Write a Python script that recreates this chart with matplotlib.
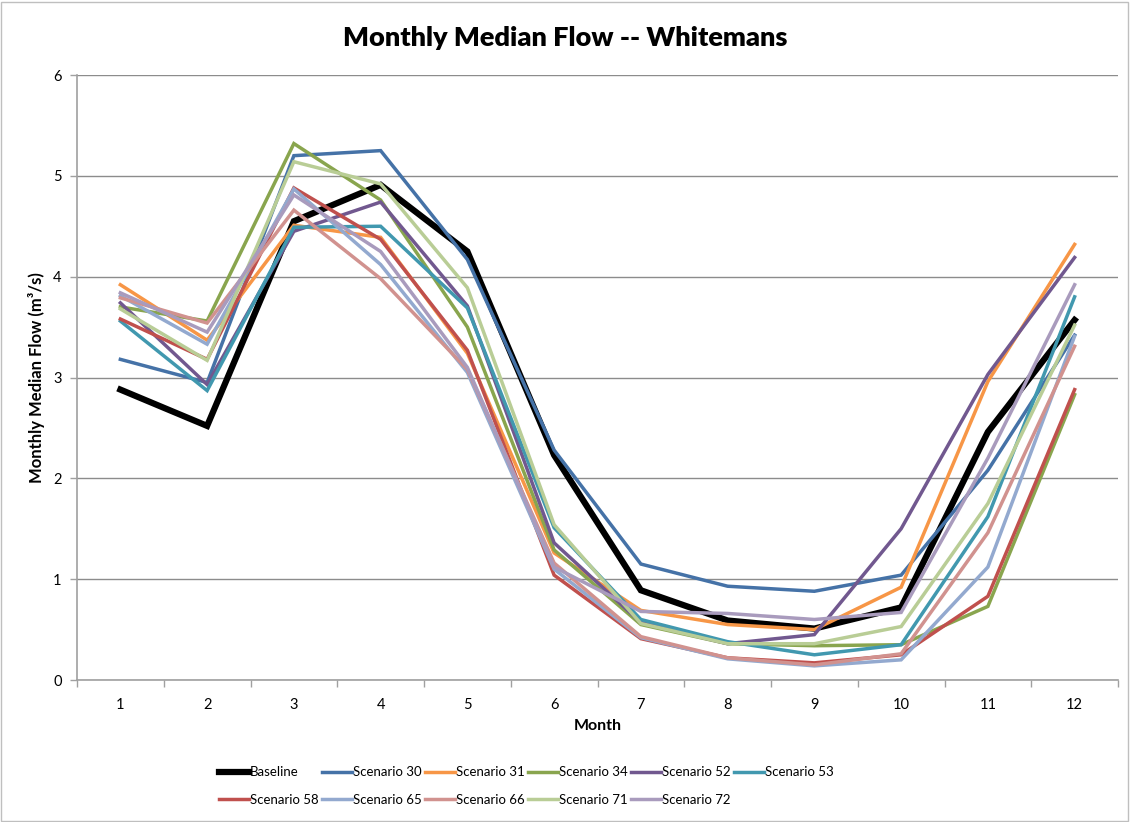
import numpy as np
import matplotlib.pyplot as plt

plt.rcParams['font.family'] = ['Lato', 'DejaVu Sans']

months = list(range(1, 13))

baseline = [2.88, 2.52, 4.55, 4.91, 4.25, 2.23, 0.89, 0.59, 0.51, 0.72, 2.46, 3.57]
s30 = [3.18, 2.95, 5.20, 5.25, 4.17, 2.28, 1.15, 0.93, 0.88, 1.04, 2.08, 3.42]
s31 = [3.92, 3.37, 4.51, 4.39, 3.24, 1.26, 0.69, 0.55, 0.50, 0.92, 2.96, 4.32]
s34 = [3.70, 3.56, 5.32, 4.76, 3.50, 1.29, 0.55, 0.36, 0.34, 0.35, 0.73, 2.83]
s52 = [3.74, 2.93, 4.45, 4.74, 3.71, 1.36, 0.57, 0.36, 0.45, 1.50, 3.03, 4.19]
s53 = [3.56, 2.87, 4.49, 4.50, 3.69, 1.51, 0.60, 0.38, 0.25, 0.35, 1.62, 3.80]
s58 = [3.58, 3.18, 4.88, 4.37, 3.27, 1.04, 0.41, 0.22, 0.17, 0.25, 0.83, 2.88]
s65 = [3.81, 3.33, 4.87, 4.12, 3.05, 1.10, 0.42, 0.21, 0.14, 0.20, 1.12, 3.41]
s66 = [3.79, 3.54, 4.66, 3.98, 3.08, 1.16, 0.43, 0.22, 0.15, 0.26, 1.46, 3.31]
s71 = [3.68, 3.17, 5.14, 4.92, 3.89, 1.54, 0.56, 0.36, 0.36, 0.53, 1.75, 3.52]
s72 = [3.84, 3.45, 4.81, 4.25, 3.10, 1.12, 0.68, 0.66, 0.60, 0.67, 2.20, 3.92]

series = [
    ('Baseline', baseline, '#000000', 4.5),
    ('Scenario 30', s30, '#4572A7', 2.5),
    ('Scenario 31', s31, '#F79646', 2.5),
    ('Scenario 34', s34, '#89A54E', 2.5),
    ('Scenario 52', s52, '#71588F', 2.5),
    ('Scenario 53', s53, '#4198AF', 2.5),
    ('Scenario 58', s58, '#C0504D', 2.5),
    ('Scenario 65', s65, '#93A9CF', 2.5),
    ('Scenario 66', s66, '#D1928F', 2.5),
    ('Scenario 71', s71, '#B9CD96', 2.5),
    ('Scenario 72', s72, '#A99BBD', 2.5),
]

fig = plt.figure(figsize=(11.3, 8.22), dpi=100)
ax = fig.add_axes([77 / 1130, 1 - 680 / 822, (1118 - 77) / 1130, (680 - 75) / 822])

handles = {}
for name, vals, col, lw in series:
    h, = ax.plot(months, vals, color=col, lw=lw, label=name, solid_joinstyle='miter')
    handles[name] = h

ax.set_xlim(0.5, 12.5)
ax.set_ylim(0, 6)
ax.set_yticks(range(0, 7))
ax.set_xticks(months)
ax.set_xticks(np.arange(0.5, 13, 1), minor=True)
ax.tick_params(axis='x', which='major', length=0, pad=13, labelsize=10.5)
ax.tick_params(axis='x', which='minor', length=5, color='#A0A0A0', width=1)
ax.tick_params(axis='y', length=5, color='#A0A0A0', width=1, pad=6, labelsize=10.5)
ax.yaxis.grid(True, color='#8C8C8C', lw=1)
ax.set_axisbelow(True)
for s in ['top', 'right']:
    ax.spines[s].set_visible(False)
for s in ['left', 'bottom']:
    ax.spines[s].set_color('#A0A0A0')
    ax.spines[s].set_linewidth(1.2)

ax.set_xlabel('Month', fontweight='bold', fontsize=11.5, labelpad=5)
ax.set_ylabel('Monthly Median Flow (m³/s)', fontweight='bold', fontsize=12, labelpad=6)
fig.text(0.5, 1 - 38 / 822, 'Monthly Median Flow -- Whitemans', ha='center', va='center',
         fontsize=19.5, fontweight='heavy')

# column-major order so the legend reads row by row like the original
order = ['Baseline', 'Scenario 58', 'Scenario 30', 'Scenario 65', 'Scenario 31', 'Scenario 66',
         'Scenario 34', 'Scenario 71', 'Scenario 52', 'Scenario 72', 'Scenario 53']
fig.legend([handles[n] for n in order], order, ncol=6, loc='center',
           bbox_to_anchor=(526 / 1130, 1 - 786 / 822), frameon=False, fontsize=9.5,
           handlelength=2.3, handletextpad=0.05, columnspacing=0.25, labelspacing=1.15)

border = plt.Rectangle((0.001, 0.001), 0.997, 0.997, transform=fig.transFigure,
                       fill=False, ec='#BFBFBF', lw=1)
fig.patches.append(border)

fig.savefig('out.png', dpi=100)
